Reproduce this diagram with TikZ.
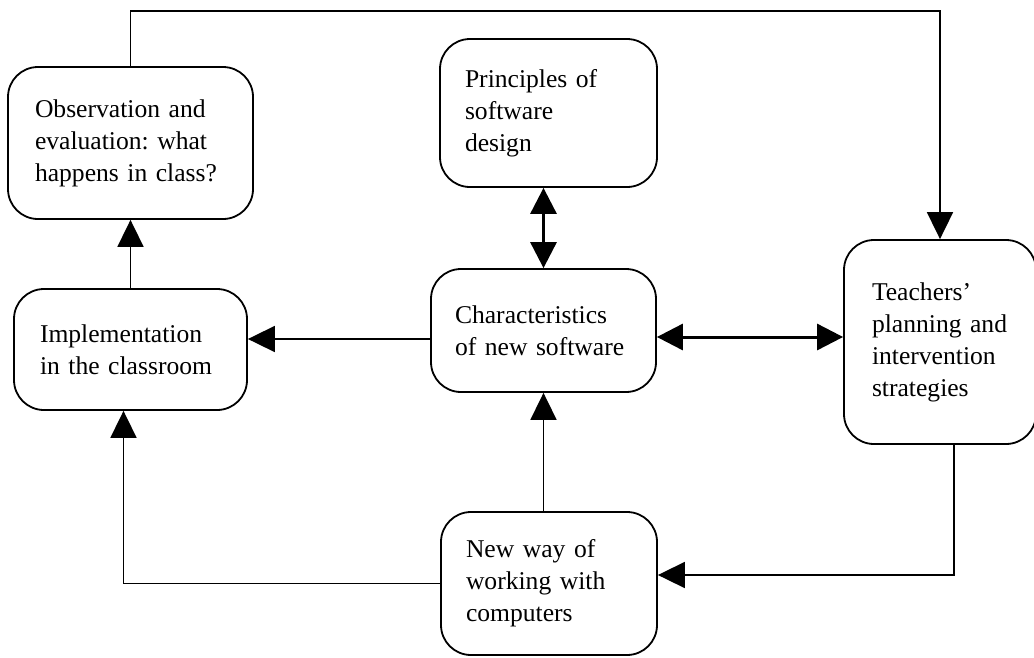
\documentclass[tikz,border=0pt]{standalone}
\usepackage{fontspec}
\setmainfont{Liberation Serif}
\usetikzlibrary{arrows.meta}
\frenchspacing
\begin{document}
\begin{tikzpicture}[x=1pt,y=-1pt,
  box/.style={draw, line width=1.8pt, rounded corners=30pt, inner sep=0pt,
    align=left, font=\fontsize{25.6}{32}\selectfont},
  link/.style={line width=1.8pt, -{Triangle[length=27pt,width=26pt]}},
  both/.style={line width=3pt, {Triangle[length=26pt,width=26pt]}-{Triangle[length=26pt,width=26pt]}}]
\useasboundingbox (0,0) rectangle (1034,657);

% boxes: centre, size and left text inset
\node[box, minimum width=245pt, minimum height=152pt, text width=191pt, inner xsep=27pt]
  (obs) at (130.5,143) {Observation and\\evaluation: what\\happens in class?};
\node[box, minimum width=217pt, minimum height=148pt, text width=167pt, inner xsep=25pt]
  (princ) at (548.5,113) {Principles of\\software\\design};
\node[box, minimum width=233pt, minimum height=121pt, text width=181pt, inner xsep=26pt]
  (impl) at (130.5,349.5) {Implementation\\in the classroom};
\node[box, minimum width=225pt, minimum height=123pt, text width=177pt, inner xsep=24pt]
  (char) at (543.5,330.5) {Characteristics\\of new software};
\node[box, minimum width=192pt, minimum height=204pt, text width=136pt, inner xsep=28pt]
  (teach) at (940,342) {Teachers’\\planning and\\intervention\\strategies};
\node[box, minimum width=216pt, minimum height=143pt, text width=166pt, inner xsep=25pt]
  (new) at (549,583.5) {New way of\\working with\\computers};

% connectors
\draw[link] (obs.north) -- ++(0,-55) -| (teach.north);
\draw[link] (impl.north) -- (obs.south);
\draw[both] (char.north |- princ.south) -- (char.north);
\draw[link] ([yshift=-8.5pt]char.west) -- ([yshift=-8.5pt]char.west -| impl.east);
\draw[both] ([yshift=-6.5pt]char.east) -- ([yshift=-6.5pt]char.east -| teach.west);
\draw[link] (char.south |- new.north) -- (char.south);
\draw[link] (new.west) -| ([xshift=-7pt]impl.south);
\draw[link] ([xshift=14pt]teach.south) |- ([yshift=8.5pt]new.east);
\end{tikzpicture}
\end{document}
